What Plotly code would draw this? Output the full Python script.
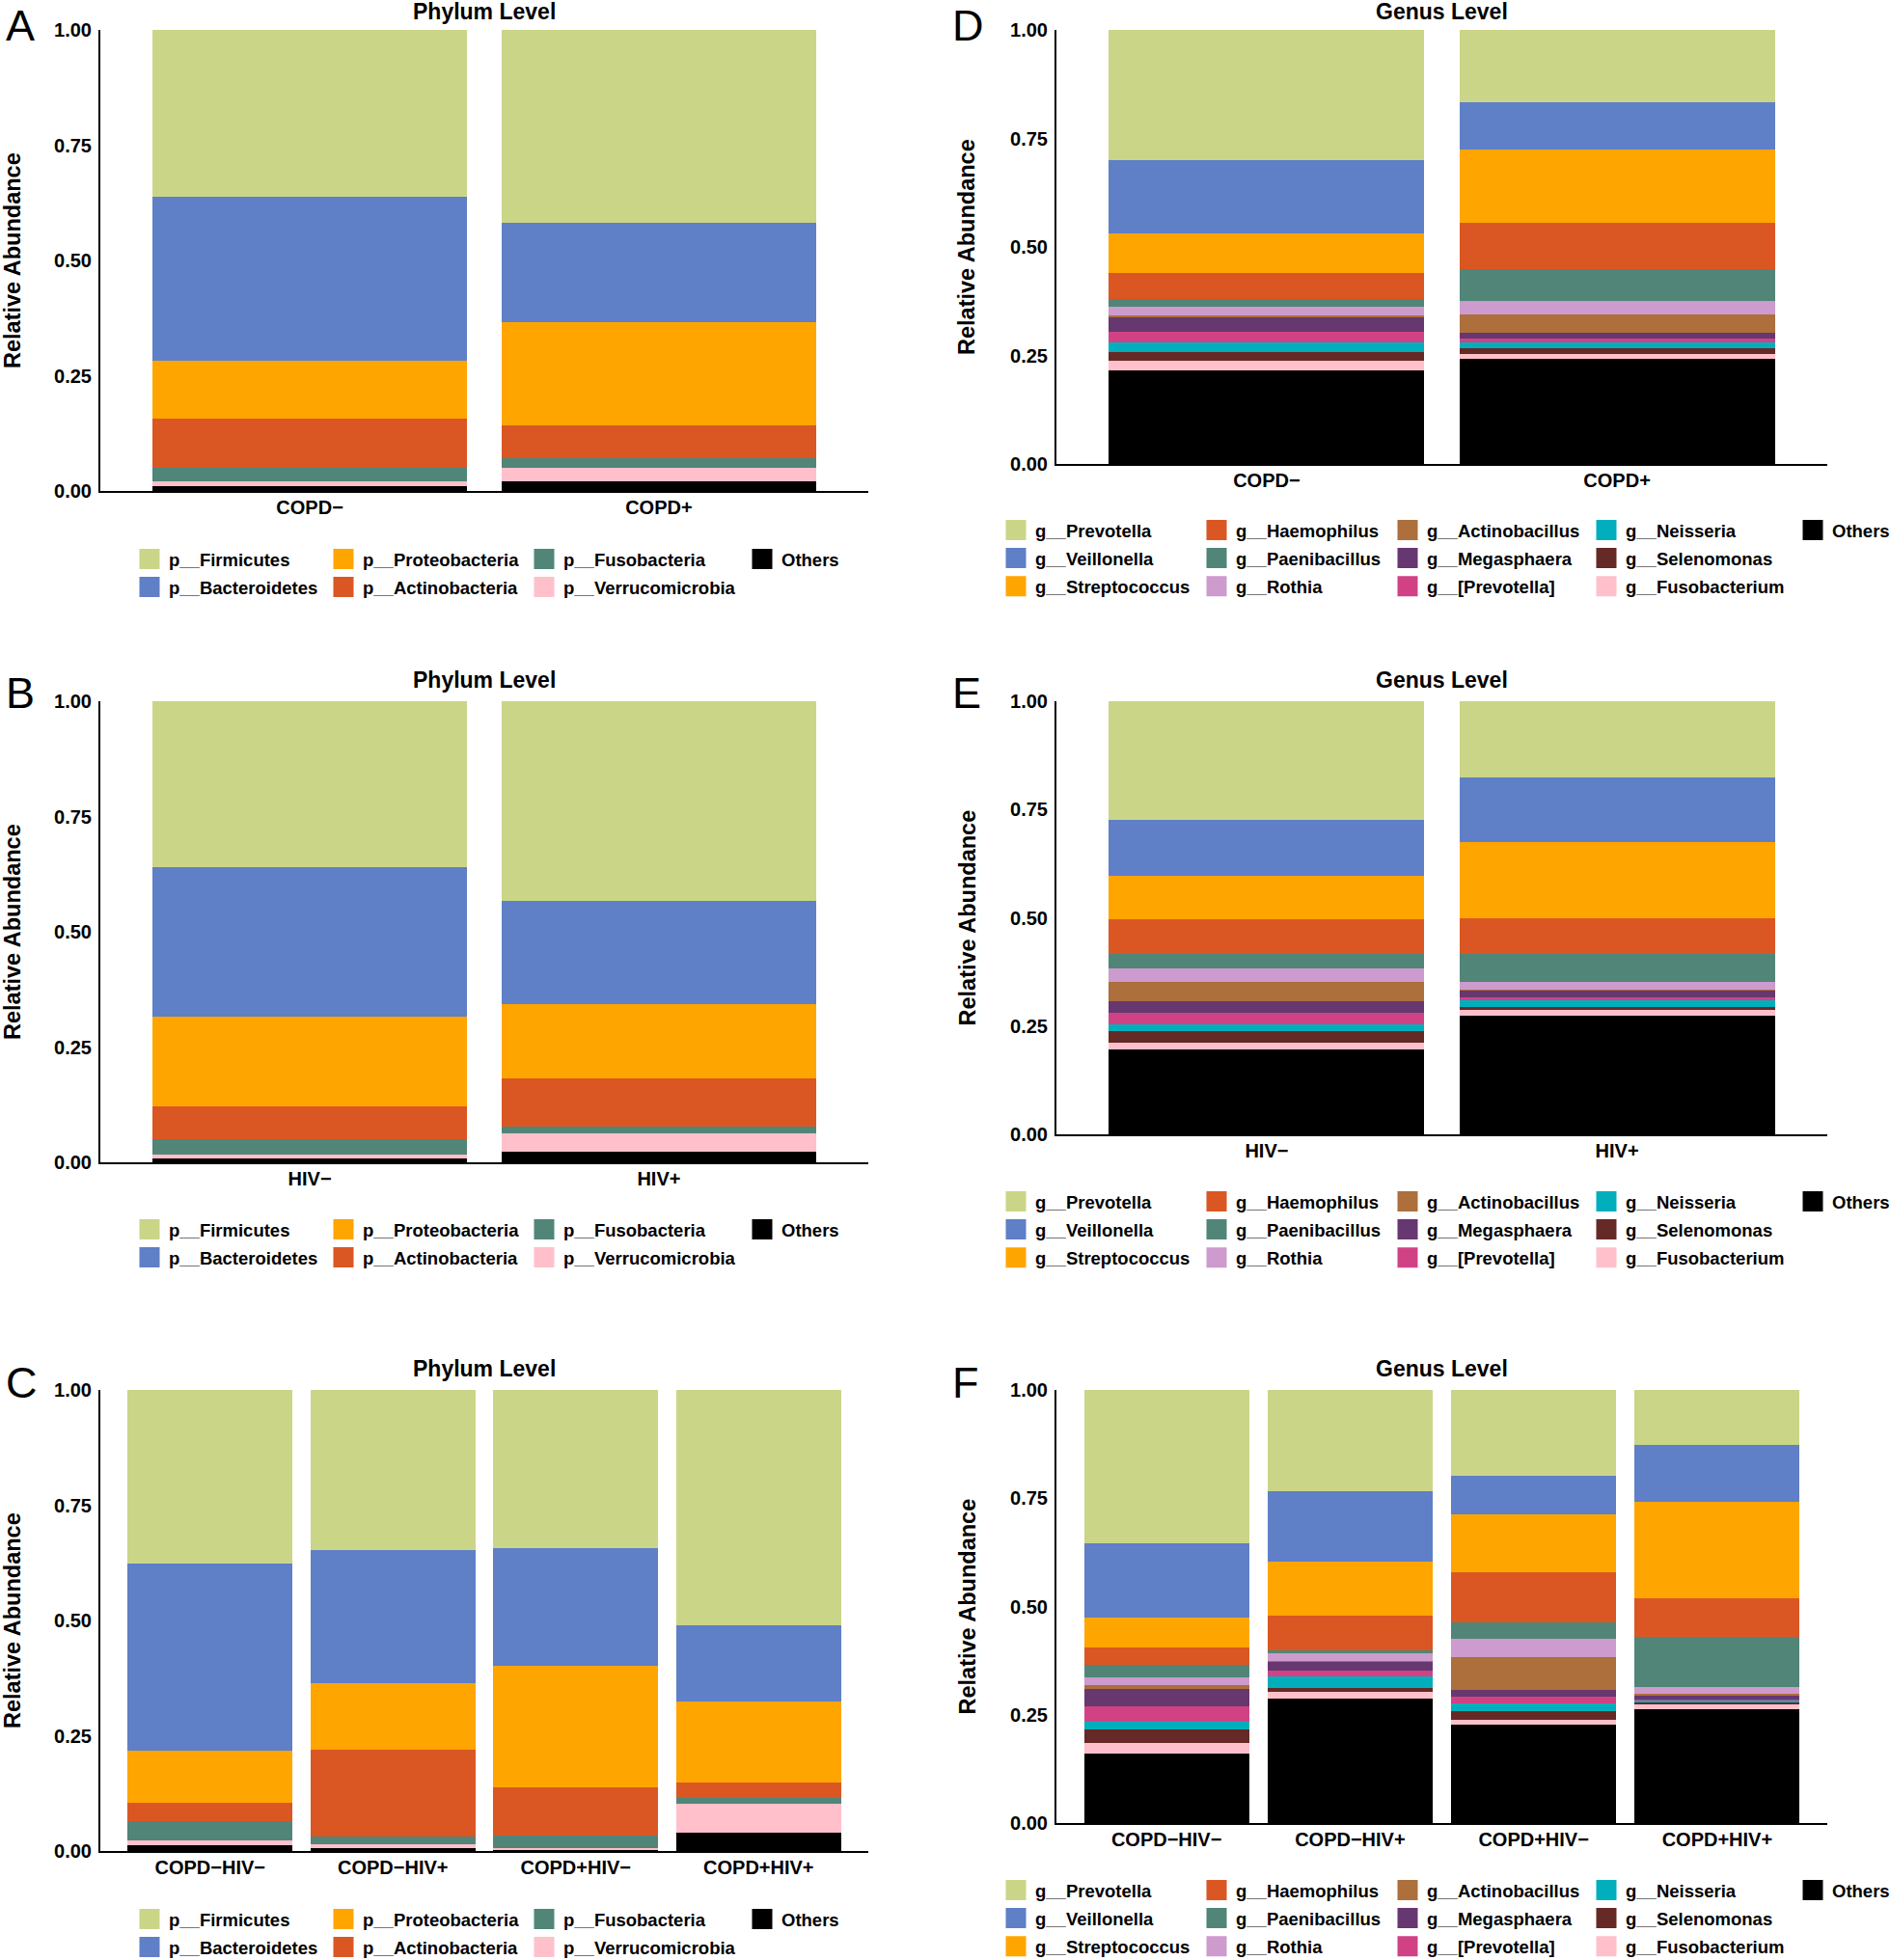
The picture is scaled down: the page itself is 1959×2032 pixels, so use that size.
import plotly.graph_objects as go

FIG_W, FIG_H = 1959, 2032
FONT = "Liberation Sans, Arial, Helvetica, sans-serif"
MINUS = "\u2212"

# groups on the x axes
copd_groups = [f"COPD{MINUS}", "COPD+"]
hiv_groups = [f"HIV{MINUS}", "HIV+"]
combo_groups = [f"COPD{MINUS}HIV{MINUS}", f"COPD{MINUS}HIV+", f"COPD+HIV{MINUS}", "COPD+HIV+"]

# taxa, bottom of the stack first
PHYLUM_TAXA = ["Others", "p__Verrucomicrobia", "p__Fusobacteria", "p__Actinobacteria",
               "p__Proteobacteria", "p__Bacteroidetes", "p__Firmicutes"]
PHYLUM_COLORS = ["#000000", "#FFC0CB", "#508578", "#DA5724", "#FFA500", "#5F7FC7", "#CBD588"]

GENUS_TAXA = ["Others", "g__Fusobacterium", "g__Selenomonas", "g__Neisseria", "g__[Prevotella]",
              "g__Megasphaera", "g__Actinobacillus", "g__Rothia", "g__Paenibacillus",
              "g__Haemophilus", "g__Streptococcus", "g__Veillonella", "g__Prevotella"]
GENUS_COLORS = ["#000000", "#FFC0CB", "#652926", "#00AFBB", "#D14285", "#673770", "#AD6F3B",
                "#CD9BCD", "#508578", "#DA5724", "#FFA500", "#5F7FC7", "#CBD588"]

# relative abundances
phylum_copd = {
    "Others": [0.011, 0.021],
    "p__Verrucomicrobia": [0.009, 0.029],
    "p__Fusobacteria": [0.031, 0.021],
    "p__Actinobacteria": [0.105, 0.071],
    "p__Proteobacteria": [0.127, 0.225],
    "p__Bacteroidetes": [0.355, 0.214],
    "p__Firmicutes": [0.362, 0.419],
}
phylum_hiv = {
    "Others": [0.009, 0.024],
    "p__Verrucomicrobia": [0.008, 0.039],
    "p__Fusobacteria": [0.033, 0.014],
    "p__Actinobacteria": [0.072, 0.106],
    "p__Proteobacteria": [0.194, 0.160],
    "p__Bacteroidetes": [0.325, 0.225],
    "p__Firmicutes": [0.359, 0.432],
}
phylum_combo = {
    "Others": [0.012, 0.006, 0.004, 0.040],
    "p__Verrucomicrobia": [0.010, 0.009, 0.003, 0.062],
    "p__Fusobacteria": [0.042, 0.017, 0.026, 0.014],
    "p__Actinobacteria": [0.041, 0.187, 0.105, 0.033],
    "p__Proteobacteria": [0.113, 0.144, 0.264, 0.176],
    "p__Bacteroidetes": [0.406, 0.290, 0.255, 0.165],
    "p__Firmicutes": [0.376, 0.347, 0.343, 0.510],
}
genus_copd = {
    "Others": [0.216, 0.243],
    "g__Fusobacterium": [0.021, 0.011],
    "g__Selenomonas": [0.021, 0.013],
    "g__Neisseria": [0.022, 0.012],
    "g__[Prevotella]": [0.025, 0.010],
    "g__Megasphaera": [0.034, 0.014],
    "g__Actinobacillus": [0.004, 0.042],
    "g__Rothia": [0.019, 0.031],
    "g__Paenibacillus": [0.018, 0.074],
    "g__Haemophilus": [0.059, 0.105],
    "g__Streptococcus": [0.093, 0.170],
    "g__Veillonella": [0.167, 0.109],
    "g__Prevotella": [0.301, 0.166],
}
genus_hiv = {
    "Others": [0.195, 0.273],
    "g__Fusobacterium": [0.017, 0.014],
    "g__Selenomonas": [0.026, 0.006],
    "g__Neisseria": [0.017, 0.016],
    "g__[Prevotella]": [0.026, 0.007],
    "g__Megasphaera": [0.027, 0.017],
    "g__Actinobacillus": [0.044, 0.002],
    "g__Rothia": [0.031, 0.018],
    "g__Paenibacillus": [0.034, 0.063],
    "g__Haemophilus": [0.079, 0.084],
    "g__Streptococcus": [0.101, 0.175],
    "g__Veillonella": [0.129, 0.148],
    "g__Prevotella": [0.274, 0.177],
}
genus_combo = {
    "Others": [0.160, 0.287, 0.227, 0.262],
    "g__Fusobacterium": [0.025, 0.015, 0.011, 0.013],
    "g__Selenomonas": [0.030, 0.010, 0.020, 0.004],
    "g__Neisseria": [0.018, 0.027, 0.018, 0.004],
    "g__[Prevotella]": [0.037, 0.013, 0.016, 0.003],
    "g__Megasphaera": [0.040, 0.021, 0.015, 0.010],
    "g__Actinobacillus": [0.009, 0.002, 0.077, 0.002],
    "g__Rothia": [0.018, 0.019, 0.041, 0.017],
    "g__Paenibacillus": [0.029, 0.004, 0.039, 0.115],
    "g__Haemophilus": [0.040, 0.080, 0.116, 0.088],
    "g__Streptococcus": [0.068, 0.125, 0.132, 0.224],
    "g__Veillonella": [0.171, 0.163, 0.090, 0.132],
    "g__Prevotella": [0.355, 0.234, 0.198, 0.126],
}

Y_TICKS = [0, 0.25, 0.5, 0.75, 1]

# legend column positions (symbol centres, px)
PHYLUM_LEG_COLS = [155, 356, 564, 790]
GENUS_LEG_COLS = [1053, 1261, 1459, 1665, 1879]


def px_x(v):
    return v / FIG_W


def px_y(v):
    return 1 - v / FIG_H


def bold(size):
    return dict(family=FONT, size=size, color="black", weight="bold")


# panel placement in pixels
PANELS = [
    dict(letter="A", title="Phylum Level", groups=copd_groups, data=phylum_copd,
         taxa=PHYLUM_TAXA, colors=PHYLUM_COLORS, left=104, right=900, top=31, bottom=509,
         letter_x=4, leg_cols=PHYLUM_LEG_COLS, leg_rows=2, leg_top=579),
    dict(letter="D", title="Genus Level", groups=copd_groups, data=genus_copd,
         taxa=GENUS_TAXA, colors=GENUS_COLORS, left=1095, right=1894, top=31, bottom=481,
         letter_x=985, leg_cols=GENUS_LEG_COLS, leg_rows=3, leg_top=549),
    dict(letter="B", title="Phylum Level", groups=hiv_groups, data=phylum_hiv,
         taxa=PHYLUM_TAXA, colors=PHYLUM_COLORS, left=104, right=900, top=727, bottom=1205,
         letter_x=4, leg_cols=PHYLUM_LEG_COLS, leg_rows=2, leg_top=1274),
    dict(letter="E", title="Genus Level", groups=hiv_groups, data=genus_hiv,
         taxa=GENUS_TAXA, colors=GENUS_COLORS, left=1095, right=1894, top=727, bottom=1176,
         letter_x=985, leg_cols=GENUS_LEG_COLS, leg_rows=3, leg_top=1245),
    dict(letter="C", title="Phylum Level", groups=combo_groups, data=phylum_combo,
         taxa=PHYLUM_TAXA, colors=PHYLUM_COLORS, left=104, right=900, top=1441, bottom=1919,
         letter_x=4, leg_cols=PHYLUM_LEG_COLS, leg_rows=2, leg_top=1989),
    dict(letter="F", title="Genus Level", groups=combo_groups, data=genus_combo,
         taxa=GENUS_TAXA, colors=GENUS_COLORS, left=1095, right=1894, top=1441, bottom=1890,
         letter_x=985, leg_cols=GENUS_LEG_COLS, leg_rows=3, leg_top=1959),
]

fig = go.Figure()
layout = {}
annotations = []
legend_n = 0

for i, p in enumerate(PANELS, start=1):
    sfx = "" if i == 1 else str(i)
    xa, ya = f"x{sfx}", f"y{sfx}"

    for taxon, color in zip(p["taxa"], p["colors"]):
        fig.add_trace(go.Bar(
            x=p["groups"], y=p["data"][taxon], name=taxon, width=0.9,
            marker=dict(color=color, line_width=0),
            showlegend=False, xaxis=xa, yaxis=ya,
        ))

    # legend: top taxon first, filled column by column, one plotly legend per column
    order = list(zip(p["taxa"], p["colors"]))[::-1]
    nrows = p["leg_rows"]
    for c, col_x in enumerate(p["leg_cols"]):
        legend_n += 1
        lname = "legend" if legend_n == 1 else f"legend{legend_n}"
        for taxon, color in order[c * nrows:(c + 1) * nrows]:
            fig.add_trace(go.Scatter(
                x=[None], y=[None], mode="markers", name=taxon,
                legendgroup=f"{p['letter']}-{taxon}",
                marker=dict(symbol="square", size=16, color=color,
                            line=dict(color=color, width=5)),
                legend=lname, showlegend=True, xaxis=xa, yaxis=ya,
            ))
        layout[lname] = dict(
            orientation="v", x=px_x(col_x - 20), xanchor="left",
            y=px_y(p["leg_top"] - 18), yanchor="top", tracegroupgap=2,
            itemsizing="trace", traceorder="grouped", bgcolor="rgba(0,0,0,0)",
            font=bold(18.5),
        )

    n = len(p["groups"])
    layout[f"xaxis{sfx}"] = dict(
        domain=[px_x(p["left"]), px_x(p["right"])], anchor=ya, type="category",
        range=[-0.6, n - 0.4], showline=True, linecolor="black", linewidth=2,
        ticks="", showgrid=False, zeroline=False, ticklabelstandoff=-2,
        tickfont=bold(20),
    )
    layout[f"yaxis{sfx}"] = dict(
        domain=[px_y(p["bottom"]), px_y(p["top"])], anchor=xa,
        range=[0, 1], tickvals=Y_TICKS, tickformat=".2f",
        showline=True, linecolor="black", linewidth=2,
        ticks="", showgrid=False, zeroline=False, ticklabelstandoff=3,
        tickfont=bold(20),
    )

    mid_x = (p["left"] + p["right"]) / 2
    annotations.append(dict(
        text=p["title"], x=px_x(mid_x), y=px_y(max(p["top"] - 22, 12)),
        xref="paper", yref="paper", xanchor="center", yanchor="middle", showarrow=False,
        font=bold(23),
    ))
    annotations.append(dict(
        text="Relative Abundance", textangle=-90,
        x=px_x(max(p["left"] - 93, 13)), y=px_y((p["top"] + p["bottom"]) / 2),
        xref="paper", yref="paper", xanchor="center", yanchor="middle", showarrow=False,
        font=bold(23.5),
    ))
    annotations.append(dict(
        text=p["letter"], x=px_x(p["letter_x"]), y=px_y(max(p["top"] - 8, 27)),
        xref="paper", yref="paper", xanchor="left", yanchor="middle", showarrow=False,
        font=dict(family=FONT, size=45, color="black"),
    ))

fig.update_layout(
    width=FIG_W, height=FIG_H, autosize=False,
    margin=dict(l=0, r=0, t=0, b=0, autoexpand=False),
    barmode="stack", template="none",
    paper_bgcolor="white", plot_bgcolor="white",
    annotations=annotations, **layout,
)

# drop the browser's default body margin so the figure sits at the window origin
fig.write_html("out.html", config={"displayModeBar": False},
               post_script="document.body.style.margin = '0px';")
